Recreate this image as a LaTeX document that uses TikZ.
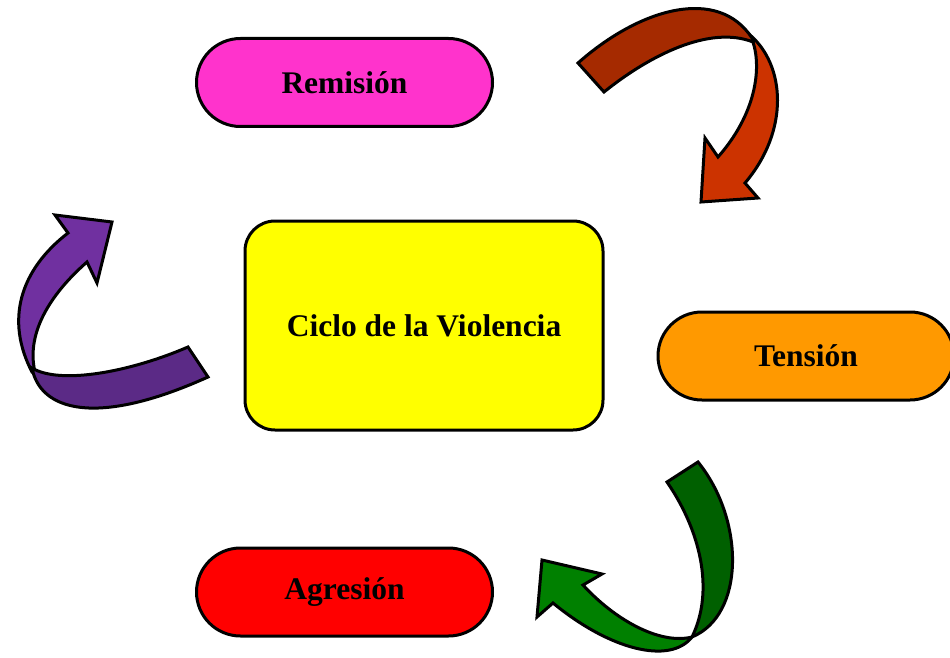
\documentclass[tikz,border=0pt]{standalone}
\usepackage{fontspec}
\setmainfont{Liberation Serif}
\usetikzlibrary{calc}

\definecolor{rosa}{HTML}{FF33CC}
\definecolor{naranja}{HTML}{FF9900}
\definecolor{amarillo}{HTML}{FFFF00}
\definecolor{rojo}{HTML}{FF0000}
\definecolor{rojoA}{HTML}{A52A00}
\definecolor{rojoB}{HTML}{CC3300}
\definecolor{verdeA}{HTML}{006000}
\definecolor{verdeB}{HTML}{008000}
\definecolor{moradoA}{HTML}{5B2A86}
\definecolor{moradoB}{HTML}{7030A0}

\begin{document}
\begin{tikzpicture}[x=1pt,y=-1pt]

    \tikzset{
      fase/.style={
        draw,
        line width=3pt,
        rounded corners=44pt,
        minimum width=296pt,
        minimum height=88pt,
        font=\fontsize{31.5}{36}\selectfont\bfseries,
      },
      cinta/.style={
        draw,
        line width=3pt,
        line join=miter,
      },
    }
    \useasboundingbox (0,0) rectangle (950,658);

	\node[fase, fill=rosa] (remision) at (344.5,82.5) {Remisi\'on};
	\node[fase, fill=naranja] (tension) at (806,356) {Tensi\'on};
	\node[fase, fill=rojo] (agresion) at (344.5,592) {Agresi\'on};
	\node[fase, fill=amarillo, rounded corners=30pt, minimum width=358pt, minimum height=209pt] (ciclo) at (424,325.5) {Ciclo de la Violencia};

	% flecha roja
	\draw[cinta, fill=rojoB] (750,35) .. controls (785,65) and (790,130) .. (745,183) -- (758,198) -- (701,202) -- (705,138) -- (718,157) .. controls (755,115) and (762,70) .. (753,42) -- cycle;
	\draw[cinta, fill=rojoA] (578,63) .. controls (640,8) and (718,-14) .. (752,38) -- (753,42) .. controls (710,25) and (650,55) .. (604,92) -- cycle;

	% flecha verde
	\draw[cinta, fill=verdeA] (667,482) .. controls (700,530) and (715,590) .. (692,637) .. controls (745,615) and (745,520) .. (698,462) -- cycle;
	\draw[cinta, fill=verdeB] (692,637) .. controls (670,665) and (610,650) .. (553,603) -- (537,617) -- (542,560) -- (602,574) -- (583,585) .. controls (615,620) and (660,645) .. (692,637) -- cycle;

	% flecha morada
	\draw[cinta, fill=moradoB] (32,372) .. controls (5,320) and (20,270) .. (68,233) -- (55,215) -- (112,222) -- (97,283) -- (87,262) .. controls (55,290) and (25,330) .. (35,372) -- cycle;
	\draw[cinta, fill=moradoA] (188,347) .. controls (130,372) and (60,385) .. (32,368) .. controls (40,410) and (95,428) .. (208,377) -- cycle;

\end{tikzpicture}
\end{document}
